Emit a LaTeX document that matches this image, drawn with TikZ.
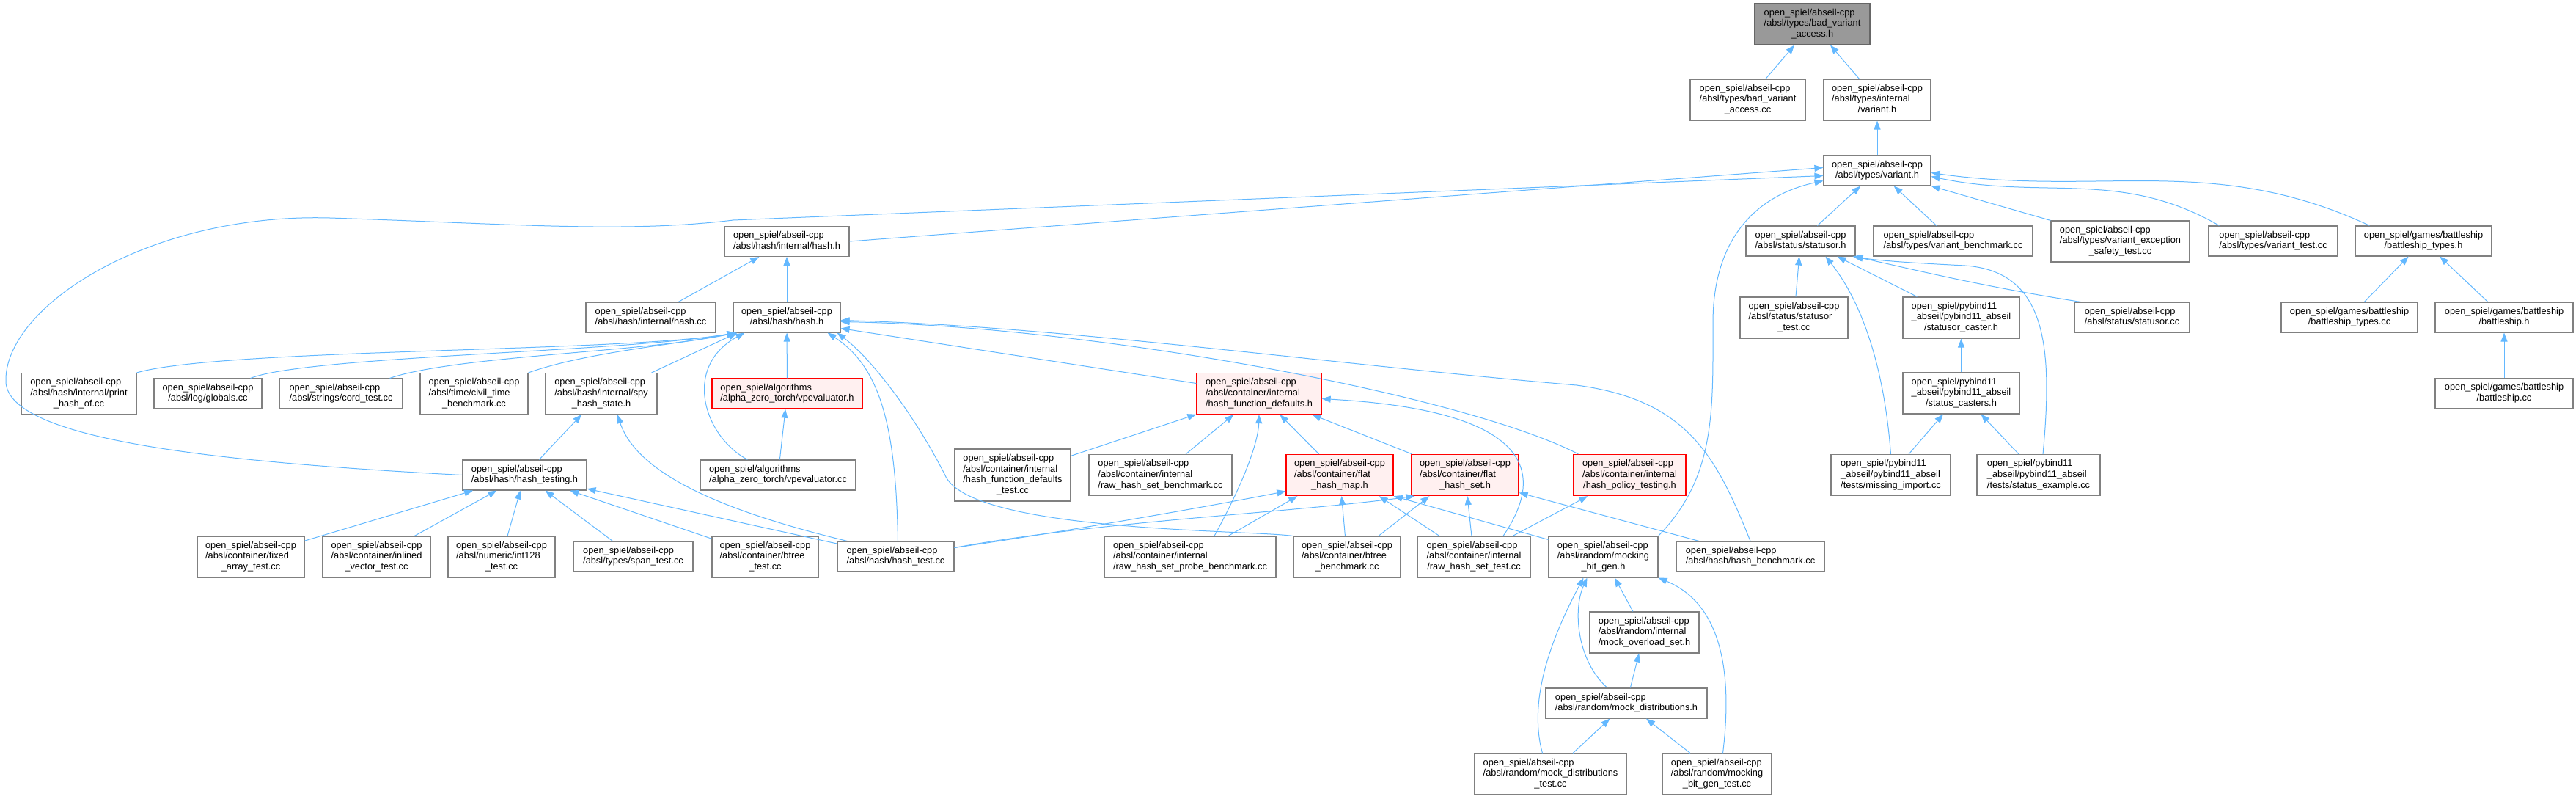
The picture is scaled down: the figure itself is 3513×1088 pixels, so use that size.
\documentclass[tikz,border=0pt]{standalone}
\usepackage{fontspec}
\setmainfont{Liberation Sans}
\usepackage{tikz}
\usetikzlibrary{arrows.meta}
\definecolor{edgeblue}{HTML}{63B8FF}
\definecolor{boxline}{HTML}{808080}
\definecolor{rootfill}{HTML}{999999}
\definecolor{hotline}{HTML}{FF0000}
\definecolor{hotfill}{HTML}{FFF0F0}
% all lines but the last one left, the last one centred
\newcommand{\fname}[2]{\begin{tabular}{@{}l@{}}#1\\\multicolumn{1}{@{}c@{}}{#2}\end{tabular}}

\begin{document}
\begin{tikzpicture}[x=1pt,y=-1pt,font=\fontsize{12.8}{14.7}\selectfont,
  box/.style={draw=boxline,fill=white,line width=1.1pt,inner sep=0pt,align=center},
  hot/.style={box,draw=hotline,fill=hotfill,line width=1.3pt},
  root/.style={box,fill=rootfill,draw=black!60},
  l2/.style={minimum height=41},
  l3/.style={minimum height=56},
  l4/.style={minimum height=71},
  edge/.style={draw=edgeblue,line width=1pt,-{Triangle[length=12pt,width=9pt]}}]
  \useasboundingbox (0,0) rectangle (3513,1088);
  % ---- variant headers ----
  \node[root,l3,minimum width=157] (bva_h) at (2471.5,33)
     {\fname{open\_spiel/abseil-cpp\\/absl/types/bad\_variant}{\_access.h}};
  \node[box,l3,minimum width=157] (bva_cc) at (2383.5,136)
     {\fname{open\_spiel/abseil-cpp\\/absl/types/bad\_variant}{\_access.cc}};
  \node[box,l3,minimum width=146] (ivariant_h) at (2560,136)
     {\fname{open\_spiel/abseil-cpp\\/absl/types/internal}{/variant.h}};
  \node[box,l2,minimum width=146] (variant_h) at (2560,232.5)
     {\fname{open\_spiel/abseil-cpp}{/absl/types/variant.h}};
  % ---- row below variant.h ----
  \node[box,l2,minimum width=170] (ihash_h) at (1073,329)
     {\fname{open\_spiel/abseil-cpp}{/absl/hash/internal/hash.h}};
  \node[box,l2,minimum width=149] (statusor_h) at (2455.5,328.5)
     {\fname{open\_spiel/abseil-cpp}{/absl/status/statusor.h}};
  \node[box,l2,minimum width=217] (vbench_cc) at (2663.5,328.5)
     {\fname{open\_spiel/abseil-cpp}{/absl/types/variant\_benchmark.cc}};
  \node[box,l3,minimum width=189] (vexc_cc) at (2891.5,329)
     {\fname{open\_spiel/abseil-cpp\\/absl/types/variant\_exception}{\_safety\_test.cc}};
  \node[box,l2,minimum width=176] (vtest_cc) at (3100,328.5)
     {\fname{open\_spiel/abseil-cpp}{/absl/types/variant\_test.cc}};
  \node[box,l2,minimum width=186] (bstypes_h) at (3305,328.5)
     {\fname{open\_spiel/games/battleship}{/battleship\_types.h}};
  % ---- hash.h row ----
  \node[box,l2,minimum width=177] (ihash_cc) at (887.5,432.5)
     {\fname{open\_spiel/abseil-cpp}{/absl/hash/internal/hash.cc}};
  \node[box,l2,minimum width=146] (hash_h) at (1073,432.5)
     {\fname{open\_spiel/abseil-cpp}{/absl/hash/hash.h}};
  \node[box,l3,minimum width=147] (sotest_cc) at (2446.5,433)
     {\fname{open\_spiel/abseil-cpp\\/absl/status/statusor}{\_test.cc}};
  \node[box,l3,minimum width=159] (socaster_h) at (2674.5,433)
     {\fname{open\_spiel/pybind11\\\_abseil/pybind11\_abseil}{/statusor\_caster.h}};
  \node[box,l2,minimum width=157] (so_cc) at (2907.5,432.5)
     {\fname{open\_spiel/abseil-cpp}{/absl/status/statusor.cc}};
  \node[box,l2,minimum width=186] (bstypes_cc) at (3204,432.5)
     {\fname{open\_spiel/games/battleship}{/battleship\_types.cc}};
  \node[box,l2,minimum width=188] (bs_h) at (3415,432.5)
     {\fname{open\_spiel/games/battleship}{/battleship.h}};
  % ---- users of hash.h ----
  \node[box,l3,minimum width=157] (printhash_cc) at (107.5,536.5)
     {\fname{open\_spiel/abseil-cpp\\/absl/hash/internal/print}{\_hash\_of.cc}};
  \node[box,l2,minimum width=147] (globals_cc) at (283.5,536.5)
     {\fname{open\_spiel/abseil-cpp}{/absl/log/globals.cc}};
  \node[box,l2,minimum width=168] (cordtest_cc) at (465,536.5)
     {\fname{open\_spiel/abseil-cpp}{/absl/strings/cord\_test.cc}};
  \node[box,l3,minimum width=147] (civil_cc) at (646.5,536.5)
     {\fname{open\_spiel/abseil-cpp\\/absl/time/civil\_time}{\_benchmark.cc}};
  \node[box,l3,minimum width=152] (spy_h) at (820,536.5)
     {\fname{open\_spiel/abseil-cpp\\/absl/hash/internal/spy}{\_hash\_state.h}};
  \node[hot,l2,minimum width=205] (vpeval_h) at (1073.5,536.5)
     {\fname{open\_spiel/algorithms}{/alpha\_zero\_torch/vpevaluator.h}};
  \node[hot,l3,minimum width=170] (hfd_h) at (1717,536.5)
     {\fname{open\_spiel/abseil-cpp\\/absl/container/internal}{/hash\_function\_defaults.h}};
  \node[box,l3,minimum width=159] (casters_h) at (2674.5,536)
     {\fname{open\_spiel/pybind11\\\_abseil/pybind11\_abseil}{/status\_casters.h}};
  \node[box,l2,minimum width=188] (bs_cc) at (3415,536)
     {\fname{open\_spiel/games/battleship}{/battleship.cc}};
  % ---- container row ----
  \node[box,l2,minimum width=169] (htesting_h) at (715.5,647.5)
     {\fname{open\_spiel/abseil-cpp}{/absl/hash/hash\_testing.h}};
  \node[box,l2,minimum width=212] (vpeval_cc) at (1061,647.5)
     {\fname{open\_spiel/algorithms}{/alpha\_zero\_torch/vpevaluator.cc}};
  \node[box,l4,minimum width=158] (hfdtest_cc) at (1381,647.5)
     {\fname{open\_spiel/abseil-cpp\\/absl/container/internal\\/hash\_function\_defaults}{\_test.cc}};
  \node[box,l3,minimum width=195] (rhsbench_cc) at (1582.5,647.5)
     {\fname{open\_spiel/abseil-cpp\\/absl/container/internal}{/raw\_hash\_set\_benchmark.cc}};
  \node[hot,l3,minimum width=146] (fhm_h) at (1827,647.5)
     {\fname{open\_spiel/abseil-cpp\\/absl/container/flat}{\_hash\_map.h}};
  \node[hot,l3,minimum width=146] (fhs_h) at (1998,647.5)
     {\fname{open\_spiel/abseil-cpp\\/absl/container/flat}{\_hash\_set.h}};
  \node[hot,l3,minimum width=153] (hpt_h) at (2222.5,647.5)
     {\fname{open\_spiel/abseil-cpp\\/absl/container/internal}{/hash\_policy\_testing.h}};
  \node[box,l3,minimum width=163] (missing_cc) at (2578.5,647.5)
     {\fname{open\_spiel/pybind11\\\_abseil/pybind11\_abseil}{/tests/missing\_import.cc}};
  \node[box,l3,minimum width=168] (example_cc) at (2780,647.5)
     {\fname{open\_spiel/pybind11\\\_abseil/pybind11\_abseil}{/tests/status\_example.cc}};
  % ---- test row ----
  \node[box,l3,minimum width=146] (fixed_cc) at (342,759)
     {\fname{open\_spiel/abseil-cpp\\/absl/container/fixed}{\_array\_test.cc}};
  \node[box,l3,minimum width=147] (inlined_cc) at (513.5,759)
     {\fname{open\_spiel/abseil-cpp\\/absl/container/inlined}{\_vector\_test.cc}};
  \node[box,l3,minimum width=146] (int128_cc) at (684,759)
     {\fname{open\_spiel/abseil-cpp\\/absl/numeric/int128}{\_test.cc}};
  \node[box,l2,minimum width=163] (span_cc) at (863.5,758.5)
     {\fname{open\_spiel/abseil-cpp}{/absl/types/span\_test.cc}};
  \node[box,l3,minimum width=145] (btreetest_cc) at (1043.5,759)
     {\fname{open\_spiel/abseil-cpp\\/absl/container/btree}{\_test.cc}};
  \node[box,l2,minimum width=159] (hashtest_cc) at (1221.5,758.5)
     {\fname{open\_spiel/abseil-cpp}{/absl/hash/hash\_test.cc}};
  \node[box,l3,minimum width=234] (probe_cc) at (1623,759)
     {\fname{open\_spiel/abseil-cpp\\/absl/container/internal}{/raw\_hash\_set\_probe\_benchmark.cc}};
  \node[box,l3,minimum width=146] (btreebench_cc) at (1837,759)
     {\fname{open\_spiel/abseil-cpp\\/absl/container/btree}{\_benchmark.cc}};
  \node[box,l3,minimum width=154] (rhstest_cc) at (2010,759)
     {\fname{open\_spiel/abseil-cpp\\/absl/container/internal}{/raw\_hash\_set\_test.cc}};
  \node[box,l3,minimum width=149] (mbg_h) at (2186.5,759)
     {\fname{open\_spiel/abseil-cpp\\/absl/random/mocking}{\_bit\_gen.h}};
  \node[box,l2,minimum width=202] (hbench_cc) at (2387,758.5)
     {\fname{open\_spiel/abseil-cpp}{/absl/hash/hash\_benchmark.cc}};
  % ---- random ----
  \node[box,l3,minimum width=149] (mos_h) at (2242.5,862)
     {\fname{open\_spiel/abseil-cpp\\/absl/random/internal}{/mock\_overload\_set.h}};
  \node[box,l2,minimum width=220] (mdist_h) at (2218,958.5)
     {\fname{open\_spiel/abseil-cpp}{/absl/random/mock\_distributions.h}};
  \node[box,l3,minimum width=207] (mdtest_cc) at (2114.5,1055)
     {\fname{open\_spiel/abseil-cpp\\/absl/random/mock\_distributions}{\_test.cc}};
  \node[box,l3,minimum width=149] (mbgtest_cc) at (2341.5,1055)
     {\fname{open\_spiel/abseil-cpp\\/absl/random/mocking}{\_bit\_gen\_test.cc}};
  % ---- top edges ----
  \draw[edge] (bva_cc) -- (bva_h);
  \draw[edge] (ivariant_h) -- (bva_h);
  \draw[edge] (variant_h) -- (ivariant_h);
  % ---- into variant.h ----
  \draw[edge] (ihash_h.east) -- ([yshift=4pt]variant_h.west);
  \draw[edge] (htesting_h.west) .. controls (300,630) and (10,600) .. (8,520)
     .. controls (5,420) and (200,290) .. (450,297)
     .. controls (700,305) and (850,318) .. (1000,300) -- ([yshift=-7pt]variant_h.west);
  \draw[edge] (statusor_h) -- (variant_h);
  \draw[edge] (vbench_cc) -- (variant_h);
  \draw[edge] (vexc_cc.north west) -- (variant_h.south east);
  \draw[edge] ([xshift=15pt]vtest_cc.north west) to[out=150,in=-12]
     ([yshift=-8pt]variant_h.east);
  \draw[edge] ([xshift=20pt]bstypes_h.north west) to[out=155,in=-8]
     ([yshift=-3pt]variant_h.east);
  \draw[edge] (mbg_h.north east) .. controls (2340,650) and (2336,560) .. (2336,440)
     .. controls (2336,320) and (2400,265) .. ([yshift=-14pt]variant_h.west);
  % ---- hash internals ----
  \draw[edge] (ihash_cc) -- (ihash_h);
  \draw[edge] (hash_h) -- (ihash_h);
  % ---- into hash.h ----
  \draw[edge] (printhash_cc.north east) .. controls (300,475) and (850,480) ..
     ([xshift=4pt]hash_h.south west);
  \draw[edge] ([xshift=-16pt]globals_cc.north east) .. controls (420,485) and (850,480) ..
     ([xshift=4pt]hash_h.south west);
  \draw[edge] ([xshift=-18pt]cordtest_cc.north east) .. controls (620,485) and (880,480) ..
     ([xshift=4pt]hash_h.south west);
  \draw[edge] (civil_cc.north east) .. controls (800,480) and (920,470) ..
     ([xshift=4pt]hash_h.south west);
  \draw[edge] ([xshift=-8pt]spy_h.north east) -- ([xshift=6pt]hash_h.south west);
  \draw[edge] (vpeval_h) -- (hash_h);
  \draw[edge] ([xshift=65pt]vpeval_cc.north west) .. controls (960,595) and (930,500) ..
     ([xshift=16pt]hash_h.south west);
  \draw[edge] ([xshift=3pt]hashtest_cc.north) .. controls (1222,580) and (1200,500) ..
     ([xshift=-18pt]hash_h.south east);
  \draw[edge] (btreebench_cc.north west) .. controls (1700,722) and (1330,725) .. (1290,650)
     .. controls (1250,570) and (1190,490) .. ([xshift=-5pt]hash_h.south east);
  \draw[edge] ([yshift=14pt]hfd_h.west) -- ([yshift=-15pt]hash_h.east);
  \draw[edge] ([xshift=7pt]hpt_h.north west) .. controls (2000,540) and (1500,445) ..
     ([yshift=-6pt]hash_h.east);
  \draw[edge] (hbench_cc.north) .. controls (2340,620) and (2300,545) .. (2150,525)
     .. controls (1800,495) and (1450,445) .. ([yshift=-4pt]hash_h.east);
  % ---- spy / hash_testing ----
  \draw[edge] (htesting_h) -- (spy_h);
  \draw[edge] ([xshift=14pt]hashtest_cc.north west) .. controls (1000,700) and (870,650) ..
     ([xshift=22pt]spy_h.south);
  \draw[edge] (fixed_cc) -- (htesting_h);
  \draw[edge] (inlined_cc) -- (htesting_h);
  \draw[edge] (int128_cc) -- (htesting_h);
  \draw[edge] (span_cc) -- (htesting_h);
  \draw[edge] (btreetest_cc) -- (htesting_h);
  \draw[edge] (hashtest_cc) -- (htesting_h);
  \draw[edge] (vpeval_cc) -- (vpeval_h);
  % ---- into hash_function_defaults.h ----
  \draw[edge] (hfdtest_cc) -- (hfd_h);
  \draw[edge] (rhsbench_cc) -- (hfd_h);
  \draw[edge] ([xshift=33pt]probe_cc.north) .. controls (1700,650) and (1716,600) ..
     (hfd_h.south);
  \draw[edge] (fhm_h) -- (hfd_h);
  \draw[edge] (fhs_h) -- (hfd_h);
  \draw[edge] ([xshift=40pt]rhstest_cc.north) .. controls (2105,650) and (2100,560) ..
     ([yshift=-7pt]hfd_h.east);
  % ---- into flat_hash_map.h / flat_hash_set.h ----
  \draw[edge] ([yshift=12pt]hashtest_cc.east) .. controls (1450,725) and (1650,690) ..
     ([yshift=-22pt]fhm_h.west);
  \draw[edge] ([yshift=12pt]hashtest_cc.east) .. controls (1500,710) and (1750,700) ..
     ([xshift=5pt]fhs_h.south west);
  \draw[edge] ([xshift=52pt]probe_cc.north) -- ([xshift=16pt]fhm_h.south west);
  \draw[edge] (btreebench_cc) -- (fhm_h);
  \draw[edge] ([xshift=-47pt]rhstest_cc.north) -- ([xshift=-20pt]fhm_h.south east);
  \draw[edge] ([yshift=-5pt]mbg_h.north west) -- (fhm_h.south east);
  \draw[edge] ([xshift=43pt]btreebench_cc.north) -- ([xshift=25pt]fhs_h.south west);
  \draw[edge] (rhstest_cc) -- (fhs_h);
  \draw[edge] ([xshift=-70pt]hbench_cc.north) -- ([yshift=-24pt]fhs_h.east);
  \draw[edge] ([xshift=53pt]rhstest_cc.north) -- ([xshift=20pt]hpt_h.south west);
  % ---- random ----
  \draw[edge] (mos_h) -- (mbg_h);
  \draw[edge] (mdist_h) -- (mos_h);
  \draw[edge] ([xshift=-26pt]mdist_h.north) .. controls (2150,900) and (2145,830) ..
     ([xshift=-22pt]mbg_h.south);
  \draw[edge] ([xshift=-11pt]mdtest_cc.north) .. controls (2085,960) and (2110,880) ..
     ([xshift=-27pt]mbg_h.south);
  \draw[edge] ([xshift=8pt]mbgtest_cc.north) .. controls (2365,900) and (2340,820) ..
     (mbg_h.south east);
  \draw[edge] (mdtest_cc) -- (mdist_h);
  \draw[edge] (mbgtest_cc) -- (mdist_h);
  % ---- status ----
  \draw[edge] (sotest_cc) -- (statusor_h);
  \draw[edge] ([xshift=20pt]socaster_h.north west) -- ([xshift=50pt]statusor_h.south);
  \draw[edge] ([xshift=9pt]so_cc.north west) .. controls (2700,390) and (2600,365) ..
     ([xshift=-2pt]statusor_h.south east);
  \draw[edge] (missing_cc.north) .. controls (2568,480) and (2530,400) ..
     ([xshift=34pt]statusor_h.south);
  \draw[edge] ([xshift=6pt]example_cc.north) .. controls (2800,470) and (2790,370) .. (2680,362)
     .. controls (2600,358) and (2560,355) .. ([xshift=-4pt]statusor_h.south east);
  \draw[edge] (casters_h) -- (socaster_h);
  \draw[edge] (missing_cc) -- (casters_h);
  \draw[edge] (example_cc) -- (casters_h);
  % ---- battleship ----
  \draw[edge] (bstypes_cc) -- (bstypes_h);
  \draw[edge] (bs_h) -- (bstypes_h);
  \draw[edge] (bs_cc) -- (bs_h);
\end{tikzpicture}
\end{document}
